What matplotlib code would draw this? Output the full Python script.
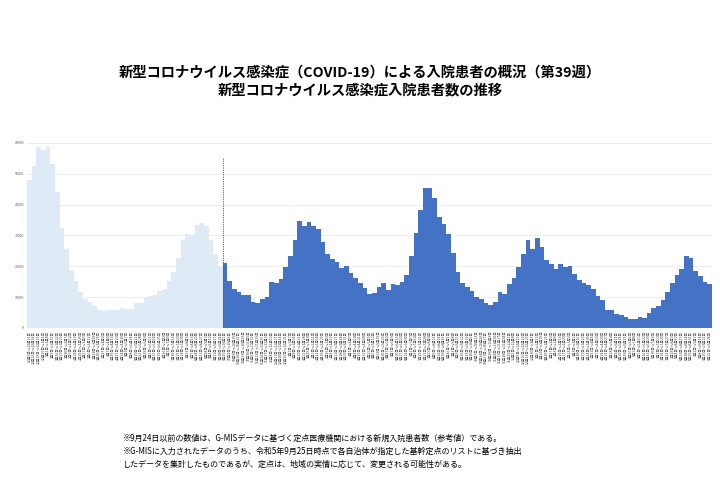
import datetime as dt
import matplotlib.pyplot as plt

plt.rcParams['font.family'] = ['Noto Sans CJK JP', 'DejaVu Sans']

# G-MIS による参考値（2022/12/5 週 ～ 2023/9/18 週）
gmis_start = dt.date(2022, 12, 5)
gmis_values = [47900, 52400, 58500, 57600, 58800, 53300, 43900, 32500, 25500, 18900,
               15100, 11700, 9200, 8400, 7100, 5900, 5400, 5700, 5900, 5900,
               6600, 6100, 6100, 8100, 8200, 10100, 10400, 10800, 12000, 12600,
               15200, 18100, 22500, 28400, 30300, 30100, 33200, 34100, 33000, 28600,
               24100, 19800]

# 基幹定点からの報告（2023/9/25 週 ～ 2025 第39週）
teiten_values = [20900, 15100, 12500, 11500, 10600, 10500, 8400, 8000, 9200, 10100,
                 14800, 14600, 16000, 19600, 23400, 28600, 34600, 33000, 34400, 33000,
                 31900, 27800, 23900, 22400, 21200, 19500,
                 20100, 17900, 16300, 14700, 13000, 10900, 11400, 13100, 14700, 12400,
                 14100, 13900, 15000, 17200, 23200, 30800, 38300, 45500, 45500, 42200,
                 36000, 33600, 30300, 24400, 18200, 14700, 13300,
                 12000, 10100, 9200, 8100, 7400, 8500, 11600, 11100, 14100, 16300,
                 19800, 23800, 28600, 25700, 29000, 26100, 21900, 20600, 19200, 20600,
                 19700, 20000, 17600, 15500, 14600, 14000,
                 12500, 10300, 9000, 5900, 5900, 4600, 4100, 3400, 3000, 3000,
                 3600, 3200, 4900, 6300, 7100, 9000, 11600, 14700, 17100, 19000,
                 23400, 22800, 18400, 16900, 15000, 14200]

n_all = len(gmis_values) + len(teiten_values)
week_labels = []
for i in range(n_all):
    s = gmis_start + dt.timedelta(weeks=i)
    e = s + dt.timedelta(days=6)
    week_labels.append(f'{s.month}月{s.day}日～{e.month}月{e.day}日')

y_ticks = [0, 10000, 20000, 30000, 40000, 50000, 60000]

title = '新型コロナウイルス感染症（COVID-19）による入院患者の概況（第39週）\n新型コロナウイルス感染症入院患者数の推移'
notes = ['※9月24日以前の数値は、G-MISデータに基づく定点医療機関における新規入院患者数（参考値）である。',
         '※G-MISに入力されたデータのうち、令和5年9月25日時点で各自治体が指定した基幹定点のリストに基づき抽出',
         'したデータを集計したものであるが、定点は、地域の実情に応じて、変更される可能性がある。']

fig = plt.figure(figsize=(7.2, 4.96), dpi=100)
ax = fig.add_axes([0.0375, 0.339, 0.9515, 0.373])

x1 = list(range(len(gmis_values)))
x2 = list(range(len(gmis_values), n_all))
ax.bar(x1, gmis_values, width=1.0, color='#DEEAF6', linewidth=0)
ax.bar(x2, teiten_values, width=1.0, color='#4472C4', linewidth=0)
ax.vlines(len(gmis_values) - 0.5, 0, 55000, colors='#595959', linestyles=(0, (1.5, 1.2)), linewidth=0.6)

ax.set_xlim(-0.5, n_all - 0.5)
ax.set_ylim(0, 60000)
ax.set_yticks(y_ticks)
ax.set_yticklabels([str(v) for v in y_ticks], fontsize=2.5, color='#595959')
ax.set_xticks(range(n_all))
ax.set_xticklabels(week_labels, rotation=90, fontsize=2.5, color='#404040')
ax.tick_params(length=0, pad=2)
ax.grid(axis='y', color='#E6E6E6', linewidth=0.5)
ax.set_axisbelow(True)
for sp in ax.spines.values():
    sp.set_visible(False)

fig.text(0.5, 0.835, title, ha='center', va='center', fontsize=10.3,
         fontweight='bold', linespacing=1.2)
for k, line in enumerate(notes):
    fig.text(0.17, 1 - (438 + 13 * k) / 496, line, ha='left', va='center', fontsize=5.8)

fig.savefig('out.png', dpi=100)
